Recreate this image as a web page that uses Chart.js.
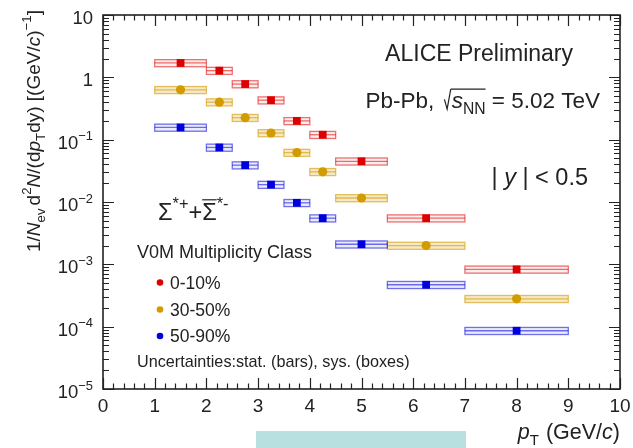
<!DOCTYPE html>
<html>
<head>
<meta charset="utf-8">
<script src="https://cdn.jsdelivr.net/npm/chart.js@4.4.1/dist/chart.umd.min.js"></script>
<style>
  html, body { margin: 0; padding: 0; background: #fff; }
  #wrap { position: relative; width: 633px; height: 448px; }
  #band { position: absolute; left: 256px; top: 431px; width: 210px; height: 17px; background: #b9e0e0; }
</style>
</head>
<body>
<div id="wrap">
  <canvas id="spectra" width="633" height="448"></canvas>
  <div id="band"></div>
</div>
<script>
// pT bins (GeV/c)
const binLow    = [1, 2, 2.5, 3, 3.5, 4, 4.5, 5.5, 7];
const binHigh   = [2, 2.5, 3, 3.5, 4, 4.5, 5.5, 7, 9];
const binCenter = [1.5, 2.25, 2.75, 3.25, 3.75, 4.25, 5, 6.25, 8];

// yields per multiplicity class
const yield0to10  = [1.70, 1.28, 0.78, 0.43, 0.200, 0.120, 0.045, 0.0055, 0.00083];
const yield30to50 = [0.63, 0.40, 0.225, 0.128, 0.062, 0.0305, 0.0116, 0.0020, 0.00028];
const yield50to90 = [0.157, 0.075, 0.039, 0.019, 0.0097, 0.0055, 0.0021, 0.00047, 0.000086];

// relative systematic (boxes) and statistical (bars) uncertainties
const sys0to10  = [0.13, 0.13, 0.13, 0.13, 0.13, 0.13, 0.13, 0.13, 0.13];
const sys30to50 = [0.13, 0.13, 0.13, 0.13, 0.13, 0.13, 0.13, 0.13, 0.13];
const sys50to90 = [0.13, 0.13, 0.13, 0.13, 0.13, 0.13, 0.13, 0.13, 0.13];
const stat0to10  = [0.02, 0.02, 0.02, 0.02, 0.03, 0.03, 0.03, 0.04, 0.05];
const stat30to50 = [0.02, 0.02, 0.02, 0.02, 0.03, 0.03, 0.03, 0.04, 0.05];
const stat50to90 = [0.02, 0.02, 0.02, 0.03, 0.03, 0.03, 0.04, 0.05, 0.06];

const classLabels = ["0-10%", "30-50%", "50-90%"];
const xTickValues = [0, 1, 2, 3, 4, 5, 6, 7, 8, 9, 10];
const yTickValues = [1e-5, 1e-4, 1e-3, 1e-2, 1e-1, 1, 10];
const yTickExp    = ["\u22125", "\u22124", "\u22123", "\u22122", "\u22121", "", ""];
const yTickBase   = ["10", "10", "10", "10", "10", "1", "10"];

const FONT = '"Liberation Sans", Arial, Helvetica, sans-serif';
const INK = "#222";

const seriesStyle = [
    { color: "rgb(220,0,0)",   line: "rgba(220,0,0,0.55)",   fill: "rgba(220,0,0,0.07)",   point: "rect",   radius: 5.5 },
    { color: "rgb(210,155,0)", line: "rgba(210,155,0,0.6)",  fill: "rgba(210,155,0,0.22)", point: "circle", radius: 4.6 },
    { color: "rgb(0,0,220)",   line: "rgba(0,0,220,0.55)",   fill: "rgba(0,0,220,0.08)",   point: "rect",   radius: 5.5 }
];
const yields = [yield0to10, yield30to50, yield50to90];
const sysErr = [sys0to10, sys30to50, sys50to90];
const statErr = [stat0to10, stat30to50, stat50to90];

function segFont(seg, size) {
    const s = (seg.sup || seg.sub) ? size * 0.7 : size;
    return (seg.it ? "italic " : "") + s.toFixed(1) + "px " + FONT;
}

// draws a line of text made of normal / italic / super / subscript pieces
function drawRich(ctx, segs, x, y, size, align) {
    let total = 0;
    const widths = segs.map(seg => {
        ctx.font = segFont(seg, size);
        const w = ctx.measureText(seg.t).width + (seg.gap || 0);
        total += w;
        return w;
    });
    let cx = align === "right" ? x - total : align === "center" ? x - total / 2 : x;
    ctx.textAlign = "left";
    ctx.textBaseline = "alphabetic";
    segs.forEach((seg, i) => {
        ctx.font = segFont(seg, size);
        const dy = seg.sup ? -size * 0.45 : seg.sub ? size * 0.28 : 0;
        ctx.fillText(seg.t, cx, y + dy);
        if (seg.over) {
            ctx.beginPath();
            ctx.lineWidth = 1.2;
            ctx.moveTo(cx + (seg.overFrom || 0), y - size * (seg.overH || 0.86));
            ctx.lineTo(cx + widths[i], y - size * (seg.overH || 0.86));
            ctx.stroke();
        }
        cx += widths[i];
    });
    return total;
}

// root-style square-root sign in front of a run of text
function drawSqrt(ctx, x, y, size) {
    ctx.beginPath();
    ctx.lineWidth = 1.2;
    ctx.moveTo(x, y - size * 0.38);
    ctx.lineTo(x + size * 0.12, y + size * 0.05);
    ctx.lineTo(x + size * 0.28, y - size * 0.84);
    ctx.stroke();
    return size * 0.32;
}

const errorBoxes = {
    id: "errorBoxes",
    beforeDatasetsDraw(chart) {
        const { ctx, scales: { x, y } } = chart;
        ctx.save();
        yields.forEach((vals, s) => {
            const st = seriesStyle[s];
            vals.forEach((v, i) => {
                const x0 = x.getPixelForValue(binLow[i]);
                const x1 = x.getPixelForValue(binHigh[i]);
                const yc = y.getPixelForValue(v);
                const yTop = y.getPixelForValue(v * (1 + sysErr[s][i]));
                const yBot = y.getPixelForValue(v * (1 - sysErr[s][i]));
                ctx.fillStyle = st.fill;
                ctx.fillRect(x0, yTop, x1 - x0, yBot - yTop);
                ctx.strokeStyle = st.line;
                ctx.lineWidth = 1.3;
                ctx.strokeRect(x0, yTop, x1 - x0, yBot - yTop);
                ctx.beginPath();
                ctx.moveTo(x0, yc);
                ctx.lineTo(x1, yc);
                ctx.stroke();
                // stat bar
                const xm = x.getPixelForValue(binCenter[i]);
                ctx.strokeStyle = st.color;
                ctx.beginPath();
                ctx.moveTo(xm, y.getPixelForValue(v * (1 + statErr[s][i])));
                ctx.lineTo(xm, y.getPixelForValue(v * (1 - statErr[s][i])));
                ctx.stroke();
            });
        });
        ctx.restore();
    }
};

const frameAndText = {
    id: "frameAndText",
    afterDraw(chart) {
        const { ctx, chartArea: a, scales: { x, y } } = chart;
        ctx.save();
        ctx.strokeStyle = INK;
        ctx.fillStyle = INK;
        ctx.lineWidth = 1.6;
        ctx.strokeRect(a.left, a.top, a.right - a.left, a.bottom - a.top);

        // x ticks: major at integers, minor every 0.2
        ctx.lineWidth = 1.2;
        ctx.beginPath();
        for (let k = 0; k <= 50; k++) {
            const px = Math.round(x.getPixelForValue(k * 0.2)) + 0.5;
            const len = k % 5 === 0 ? 11 : 5.5;
            ctx.moveTo(px, a.bottom); ctx.lineTo(px, a.bottom - len);
            ctx.moveTo(px, a.top); ctx.lineTo(px, a.top + len);
        }
        // y ticks: decades + 2..9 minors
        for (let d = -5; d <= 1; d++) {
            for (let m = 1; m <= 9; m++) {
                const v = m * Math.pow(10, d);
                if (d === 1 && m > 1) continue;
                const py = Math.round(y.getPixelForValue(v)) + 0.5;
                const len = m === 1 ? 11 : 6;
                ctx.moveTo(a.left, py); ctx.lineTo(a.left + len, py);
                ctx.moveTo(a.right, py); ctx.lineTo(a.right - len, py);
            }
        }
        ctx.stroke();

        // tick labels
        xTickValues.forEach(v => {
            drawRich(ctx, [{ t: String(v) }], x.getPixelForValue(v), a.bottom + 23, 19, "center");
        });
        yTickValues.forEach((v, i) => {
            const segs = [{ t: yTickBase[i] }];
            if (yTickExp[i]) segs.push({ t: yTickExp[i], sup: true });
            drawRich(ctx, segs, a.left - 10, y.getPixelForValue(v) + 9, 18.5, "right");
        });

        // axis titles
        drawRich(ctx, [
            { t: "p", it: true }, { t: "T", sub: true, gap: 7 }, { t: "(GeV/" }, { t: "c", it: true }, { t: ")" }
        ], a.right, 439, 21.5, "right");

        ctx.save();
        ctx.translate(40, 10);
        ctx.rotate(-Math.PI / 2);
        drawRich(ctx, [
            { t: "1/" }, { t: "N", it: true }, { t: "ev", sub: true, gap: 3 },
            { t: "d" }, { t: "2", sup: true }, { t: "N", it: true }, { t: "/(d" }, { t: "p", it: true },
            { t: "T", sub: true }, { t: "dy) [(GeV/" }, { t: "c", it: true }, { t: ")" }, { t: "\u22121", sup: true }, { t: "]" }
        ], 0, 0, 19, "right");
        ctx.restore();

        // labels inside the frame
        drawRich(ctx, [{ t: "ALICE Preliminary" }], 573, 61, 23, "right");

        // Pb-Pb line: measure right part, then place sqrt + s_NN before it
        const pbSize = 22.5;
        const right = drawRich(ctx, [{ t: " = 5.02 TeV" }], 600, 108, pbSize, "right");
        ctx.font = "italic " + pbSize + "px " + FONT;
        const wS = ctx.measureText("s").width;
        ctx.font = (pbSize * 0.7).toFixed(1) + "px " + FONT;
        const wNN = ctx.measureText("NN").width;
        const runEnd = 600 - right;
        const runStart = runEnd - wS - wNN;
        drawRich(ctx, [{ t: "s", it: true }, { t: "NN", sub: true }], runStart, 108, pbSize, "left");
        const sq = pbSize * 0.32;
        drawSqrt(ctx, runStart - sq, 108, pbSize);
        ctx.beginPath();
        ctx.moveTo(runStart - sq + pbSize * 0.28, 108 - pbSize * 0.84);
        ctx.lineTo(runEnd, 108 - pbSize * 0.84);
        ctx.stroke();
        drawRich(ctx, [{ t: "Pb-Pb, " }], runStart - sq - 4, 108, pbSize, "right");

        drawRich(ctx, [{ t: "| " }, { t: "y", it: true }, { t: " | < 0.5" }], 588, 185, 23.5, "right");

        drawRich(ctx, [
            { t: "\u03A3" }, { t: "*+", sup: true }, { t: "+" },
            { t: "\u03A3", over: true, overH: 0.86 }, { t: "*-", sup: true }
        ], 158, 220, 23.5, "left");

        drawRich(ctx, [{ t: "V0M Multiplicity Class" }], 137, 258, 18, "left");
        classLabels.forEach((lab, i) => {
            const ly = [282.5, 309.5, 336][i];
            ctx.fillStyle = seriesStyle[i].color;
            ctx.beginPath();
            ctx.arc(160, ly, 3.3, 0, Math.PI * 2);
            ctx.fill();
            ctx.fillStyle = INK;
            drawRich(ctx, [{ t: lab }], 170, ly + 6.3, 17.5, "left");
        });
        drawRich(ctx, [{ t: "Uncertainties:stat. (bars), sys. (boxes)" }], 137, 366.5, 16.2, "left");
        ctx.restore();
    }
};

const datasets = yields.map((vals, s) => ({
    label: classLabels[s],
    data: vals.map((v, i) => ({ x: binCenter[i], y: v })),
    pointStyle: seriesStyle[s].point,
    pointRadius: seriesStyle[s].radius,
    pointBackgroundColor: seriesStyle[s].color,
    pointBorderColor: seriesStyle[s].color,
    pointBorderWidth: 0,
    showLine: false
}));

new Chart(document.getElementById("spectra").getContext("2d"), {
    type: "scatter",
    data: { datasets: datasets },
    options: {
        responsive: false,
        animation: false,
        layout: { padding: { left: 103, top: 15, right: 13, bottom: 59 } },
        plugins: { legend: { display: false }, tooltip: { enabled: false } },
        scales: {
            x: { type: "linear", min: 0, max: 10, display: false },
            y: { type: "logarithmic", min: 1e-5, max: 10, display: false }
        }
    },
    plugins: [errorBoxes, frameAndText]
});
</script>
</body>
</html>
